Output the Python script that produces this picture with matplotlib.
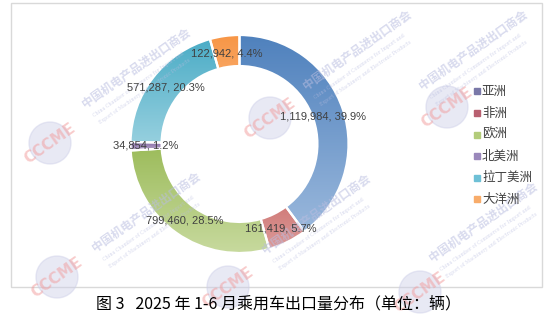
import numpy as np
import matplotlib.pyplot as plt
from matplotlib.colors import LinearSegmentedColormap
from matplotlib.patches import Rectangle, Circle

plt.rcParams['font.family'] = ['Noto Sans CJK SC', 'DejaVu Sans']

# 2025年1-6月乘用车出口量（辆）
regions = ['亚洲', '非洲', '欧洲', '北美洲', '拉丁美洲', '大洋洲']
volumes = [1119984, 161419, 799460, 34854, 571287, 122942]

top_colors = ['#4f81bd', '#c0504d', '#9bbb59', '#8064a2', '#4bacc6', '#f79646']
bottom_colors = ['#9ab8dc', '#dc9a98', '#c8da9f', '#b5a5ca', '#97d0df', '#fbc396']
legend_colors = ['#7a78a8', '#b86070', '#b3cc7a', '#9a88bb', '#6ec0d6', '#f8ac6a']

caption = '图 3   2025 年 1-6 月乘用车出口量分布（单位：辆）'

W, H = 549, 324
fig = plt.figure(figsize=(W / 100, H / 100), dpi=100)


def fx(x):
    return x / W


def fy(y):
    return 1 - y / H


# outer frame
fig.patches.append(Rectangle((fx(11), fy(287)), fx(542) - fx(11), fy(3) - fy(287),
                             transform=fig.transFigure, fill=False,
                             edgecolor='#d9d9d9', lw=1, zorder=0))

# donut
cx, cy, R = 239.5, 144, 109
ax = fig.add_axes([fx(cx - R), fy(cy + R), 2 * R / W, 2 * R / H])
wedges, _ = ax.pie(volumes, startangle=90, counterclock=False, colors=top_colors,
                   wedgeprops=dict(width=0.285, edgecolor='white', linewidth=1.6))

grad = np.linspace(0, 1, 256).reshape(-1, 1)
for w, c0, c1 in zip(wedges, top_colors, bottom_colors):
    v = w.get_path().vertices
    cmap = LinearSegmentedColormap.from_list('g', [c1, c0])
    im = ax.imshow(grad, extent=[v[:, 0].min(), v[:, 0].max(), v[:, 1].min(), v[:, 1].max()],
                   origin='lower', cmap=cmap, aspect='auto', zorder=1)
    im.set_clip_path(w)
    w.set_facecolor('none')
    w.set_zorder(2)

ax.set_xlim(-1, 1)
ax.set_ylim(-1, 1)
ax.axis('off')

# watermarks (faint, drawn over the chart)
wm = '#b9bde0'
marks = [(50, 143, 85, 108), (270, 118, 306, 90), (447, 107, 422, 90),
         (57, 277, 95, 252), (228, 287, 265, 254), (420, 292, 432, 262)]
for lx, lyy, tx, ty in marks:
    fig.patches.append(Circle((lx / 100, (H - lyy) / 100), 0.21, transform=fig.dpi_scale_trans,
                              color='#cdcfe8', alpha=0.45, zorder=6))
    fig.text(fx(lx), fy(lyy), 'CCCME', rotation=35, ha='center', va='center',
             fontsize=11, fontweight='bold', color='#f29a9a', alpha=0.5, zorder=7,
             family='DejaVu Sans')
    fig.text(fx(tx), fy(ty), '中国机电产品进出口商会', rotation=35, rotation_mode='anchor',
             ha='left', va='baseline', fontsize=8.5, fontweight='bold',
             color=wm, alpha=0.55, zorder=7)
    fig.text(fx(tx + 9), fy(ty + 9), 'China Chamber of Commerce for Import and',
             rotation=35, rotation_mode='anchor', ha='left', va='baseline',
             fontsize=3.4, color=wm, alpha=0.55, zorder=7, family='DejaVu Serif')
    fig.text(fx(tx + 15), fy(ty + 16), 'Export of Machinery and Electronic Products',
             rotation=35, rotation_mode='anchor', ha='left', va='baseline',
             fontsize=3.4, color=wm, alpha=0.55, zorder=7, family='DejaVu Serif')

# data labels (above the watermarks)
total = sum(volumes)
label_dist = [0.81, 0.86, 0.86, 0.86, 0.85, 0.84]
for w, v, d in zip(wedges, volumes, label_dist):
    ang = np.deg2rad((w.theta1 + w.theta2) / 2)
    fig.text(d * np.cos(ang), d * np.sin(ang), f'{v:,}, {v / total * 100:.1f}%',
             transform=ax.transData, ha='center', va='center', fontsize=8,
             color='#404040', family='Liberation Sans', zorder=9)

# legend
ly = [91, 113, 134.5, 156, 177.5, 199]
for name, col, y in zip(regions, legend_colors, ly):
    fig.patches.append(Rectangle((fx(473.5), fy(y + 3)), 6 / W, 6 / H,
                                 transform=fig.transFigure, color=col, zorder=8))
    fig.text(fx(482), fy(y), name, fontsize=9, color='#404040', ha='left', va='center', zorder=9)

fig.text(fx(278), fy(304), caption, ha='center', va='center', fontsize=11.5,
         color='#000000', zorder=9)

fig.savefig('out.png', dpi=100)
